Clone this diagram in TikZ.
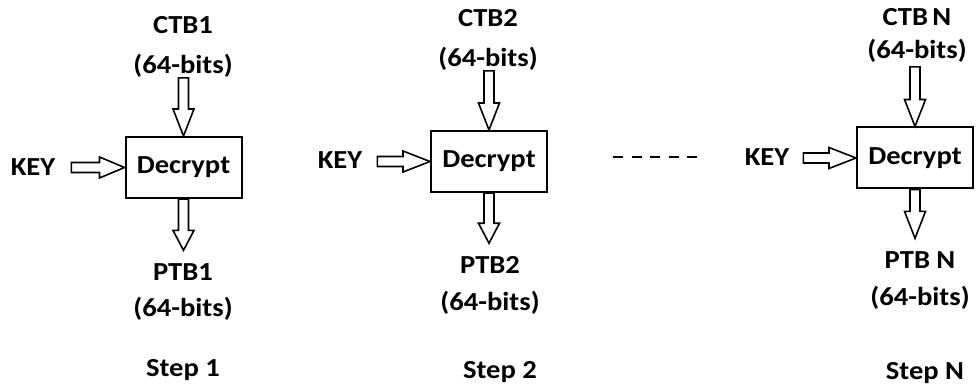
\documentclass[tikz,border=0pt]{standalone}
\usepackage{fontspec}
\setmainfont{Carlito}[FakeStretch=1.1]
\usetikzlibrary{calc}

\tikzset{
    lbl/.style={anchor=center, inner sep=0pt, font=\fontsize{26}{30}\selectfont\bfseries},
    decbox/.style={draw, line width=2pt, minimum width=116pt, minimum height=61pt, inner sep=0pt,
        font=\fontsize{26}{30}\selectfont\bfseries},
    blockarrow/.style={draw, line width=1.6pt, to path={
        let \p1=(\tikztostart), \p2=(\tikztotarget),
            \n1={atan2(\y2-\y1,\x2-\x1)}, \n2={veclen(\x2-\x1,\y2-\y1)} in
        ([shift={(\p1)},rotate=\n1]0,-5) -- ([shift={(\p1)},rotate=\n1]\n2-#1,-5)
        -- ([shift={(\p1)},rotate=\n1]\n2-#1,-10.5) -- ([shift={(\p1)},rotate=\n1]\n2,0)
        -- ([shift={(\p1)},rotate=\n1]\n2-#1,10.5) -- ([shift={(\p1)},rotate=\n1]\n2-#1,5)
        -- ([shift={(\p1)},rotate=\n1]0,5) -- cycle}},
    blockarrow/.default=27
}

\begin{document}
\begin{tikzpicture}[x=1pt, y=1pt]
    \useasboundingbox (0,0) rectangle (976,390);
    % step 1
    \node [decbox] (dec1) at (183.5,222.5) {Decrypt};
    \node [lbl] (ctb1) at (183,365) {CTB1};
    \node [lbl] (cbits1) at (183,324) {(64-bits)};
    \node [lbl] (ptb1) at (183,118) {PTB1};
    \node [lbl] (pbits1) at (183,81) {(64-bits)};
    \node [lbl] (key1) at (33,223) {KEY};
    \node [lbl] (step1) at (183,20) {Step 1};
    \draw [blockarrow] (dec1.north |- cbits1.south) to (dec1.north);
    \draw [blockarrow=20] (dec1.south) to ([yshift=13pt]dec1.south |- ptb1.north);
    \draw [blockarrow=25] ([xshift=16pt]key1.east |- dec1.west) to (dec1.west);
    % step 2
    \node [decbox] (dec2) at (489,228.5) {Decrypt};
    \node [lbl] (ctb2) at (488,372) {CTB2};
    \node [lbl] (cbits2) at (488,331) {(64-bits)};
    \node [lbl] (ptb2) at (490,125) {PTB2};
    \node [lbl] (pbits2) at (490,87) {(64-bits)};
    \node [lbl] (key2) at (340,230) {KEY};
    \node [lbl] (step2) at (500,18) {Step 2};
    \draw [blockarrow] (dec2.north |- cbits2.south) to (dec2.north);
    \draw [blockarrow=20] (dec2.south) to ([yshift=13pt]dec2.south |- ptb2.north);
    \draw [blockarrow] ([xshift=15pt]key2.east |- dec2.west) to (dec2.west);
    % dots between
    \draw [line width=2pt, dash pattern=on 10pt off 8.5pt] (613,233) -- (697,233);
    % step N
    \node [decbox] (decn) at (915,232) {Decrypt};
    \node [lbl] (ctbn) at (917,373) {CTB\,N};
    \node [lbl] (cbitsn) at (917,339) {(64-bits)};
    \node [lbl] (ptbn) at (920,130) {PTB N};
    \node [lbl] (pbitsn) at (920,92) {(64-bits)};
    \node [lbl] (keyn) at (767,233) {KEY};
    \node [lbl] (stepn) at (925,17) {Step N};
    \draw [blockarrow] ([yshift=-4pt]decn.north |- cbitsn.south) to (decn.north);
    \draw [blockarrow] (decn.south) to ([yshift=13pt]decn.south |- ptbn.north);
    \draw [blockarrow] ([xshift=14pt]keyn.east |- decn.west) to (decn.west);
\end{tikzpicture}
\end{document}
